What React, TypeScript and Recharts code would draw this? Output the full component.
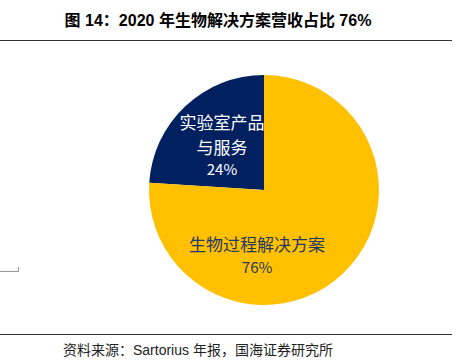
import React from "react";
import { PieChart, Pie, Cell } from "recharts";

const categories = ["实验室产品与服务", "生物过程解决方案"];
const labelLines = [["实验室产品", "与服务"], ["生物过程解决方案"]];
const values = [24, 76];
const percentLabels = ["24%", "76%"];
const colors = ["#002060", "#FFC000"];
const textColors = ["#FFFFFF", "#1F3864"];

const data = categories.map((name, i) => ({ name, value: values[i] }));

const cjk = "'Noto Sans CJK SC', 'Liberation Sans', sans-serif";

const renderLabel = (props: any) => {
  const { cx, cy, outerRadius, index } = props;
  const r = outerRadius;
  let x: number, y: number;
  let gaps: number[];
  if (index === 0) {
    x = cx - r * 0.365;
    y = cy - r * 0.53;
    gaps = [0, 25, 46];
  } else {
    x = cx - r * 0.06;
    y = cy + r * 0.53;
    gaps = [0, 22];
  }
  const lines = [...labelLines[index], percentLabels[index]];
  return (
    <text x={x} y={y} textAnchor="middle" fill={textColors[index]} fontFamily={cjk} fontSize={17}>
      {lines.map((l, k) => (
        <tspan key={k} x={x} y={y + gaps[k]} fontSize={k === lines.length - 1 ? 15 : 17}>
          {l}
        </tspan>
      ))}
    </text>
  );
};

export default function App() {
  return (
    <div style={{ position: "absolute", left: 0, top: 0, width: 460, height: 362, background: "#fff" }}>
      <div
        style={{
          position: "absolute",
          left: 0,
          top: 7,
          width: 436,
          textAlign: "center",
          fontFamily: "'Liberation Sans', 'Noto Sans CJK SC', sans-serif",
          fontWeight: "bold",
          fontSize: 16,
          color: "#000",
          whiteSpace: "nowrap",
        }}
      >
        图 14：2020 年生物解决方案营收占比 76%
      </div>
      <div style={{ position: "absolute", left: 0, top: 40, width: 452, height: 1, background: "#333" }} />
      <div style={{ position: "absolute", left: 0, top: 271, width: 19, height: 1, background: "#999" }} />
      <div style={{ position: "absolute", left: 18, top: 267, width: 1, height: 5, background: "#999" }} />
      <div style={{ position: "absolute", left: 0, top: 334, width: 452, height: 1, background: "#333" }} />
      <div
        style={{
          position: "absolute",
          left: 63,
          top: 339,
          fontFamily: "'Liberation Sans', 'Noto Sans CJK SC', sans-serif",
          fontSize: 14,
          color: "#222",
          whiteSpace: "nowrap",
        }}
      >
        资料来源：Sartorius 年报，国海证券研究所
      </div>
      <div style={{ position: "absolute", left: 0, top: 0 }}>
        <PieChart width={460} height={362} margin={{ top: 0, right: 0, bottom: 0, left: 0 }}>
          <Pie
            data={data}
            dataKey="value"
            nameKey="name"
            cx={264}
            cy={190}
            outerRadius={115}
            startAngle={90}
            endAngle={450}
            stroke="none"
            label={renderLabel}
            labelLine={false}
            isAnimationActive={false}
          >
            {data.map((d, i) => (
              <Cell key={d.name} fill={colors[i]} />
            ))}
          </Pie>
        </PieChart>
      </div>
    </div>
  );
}
